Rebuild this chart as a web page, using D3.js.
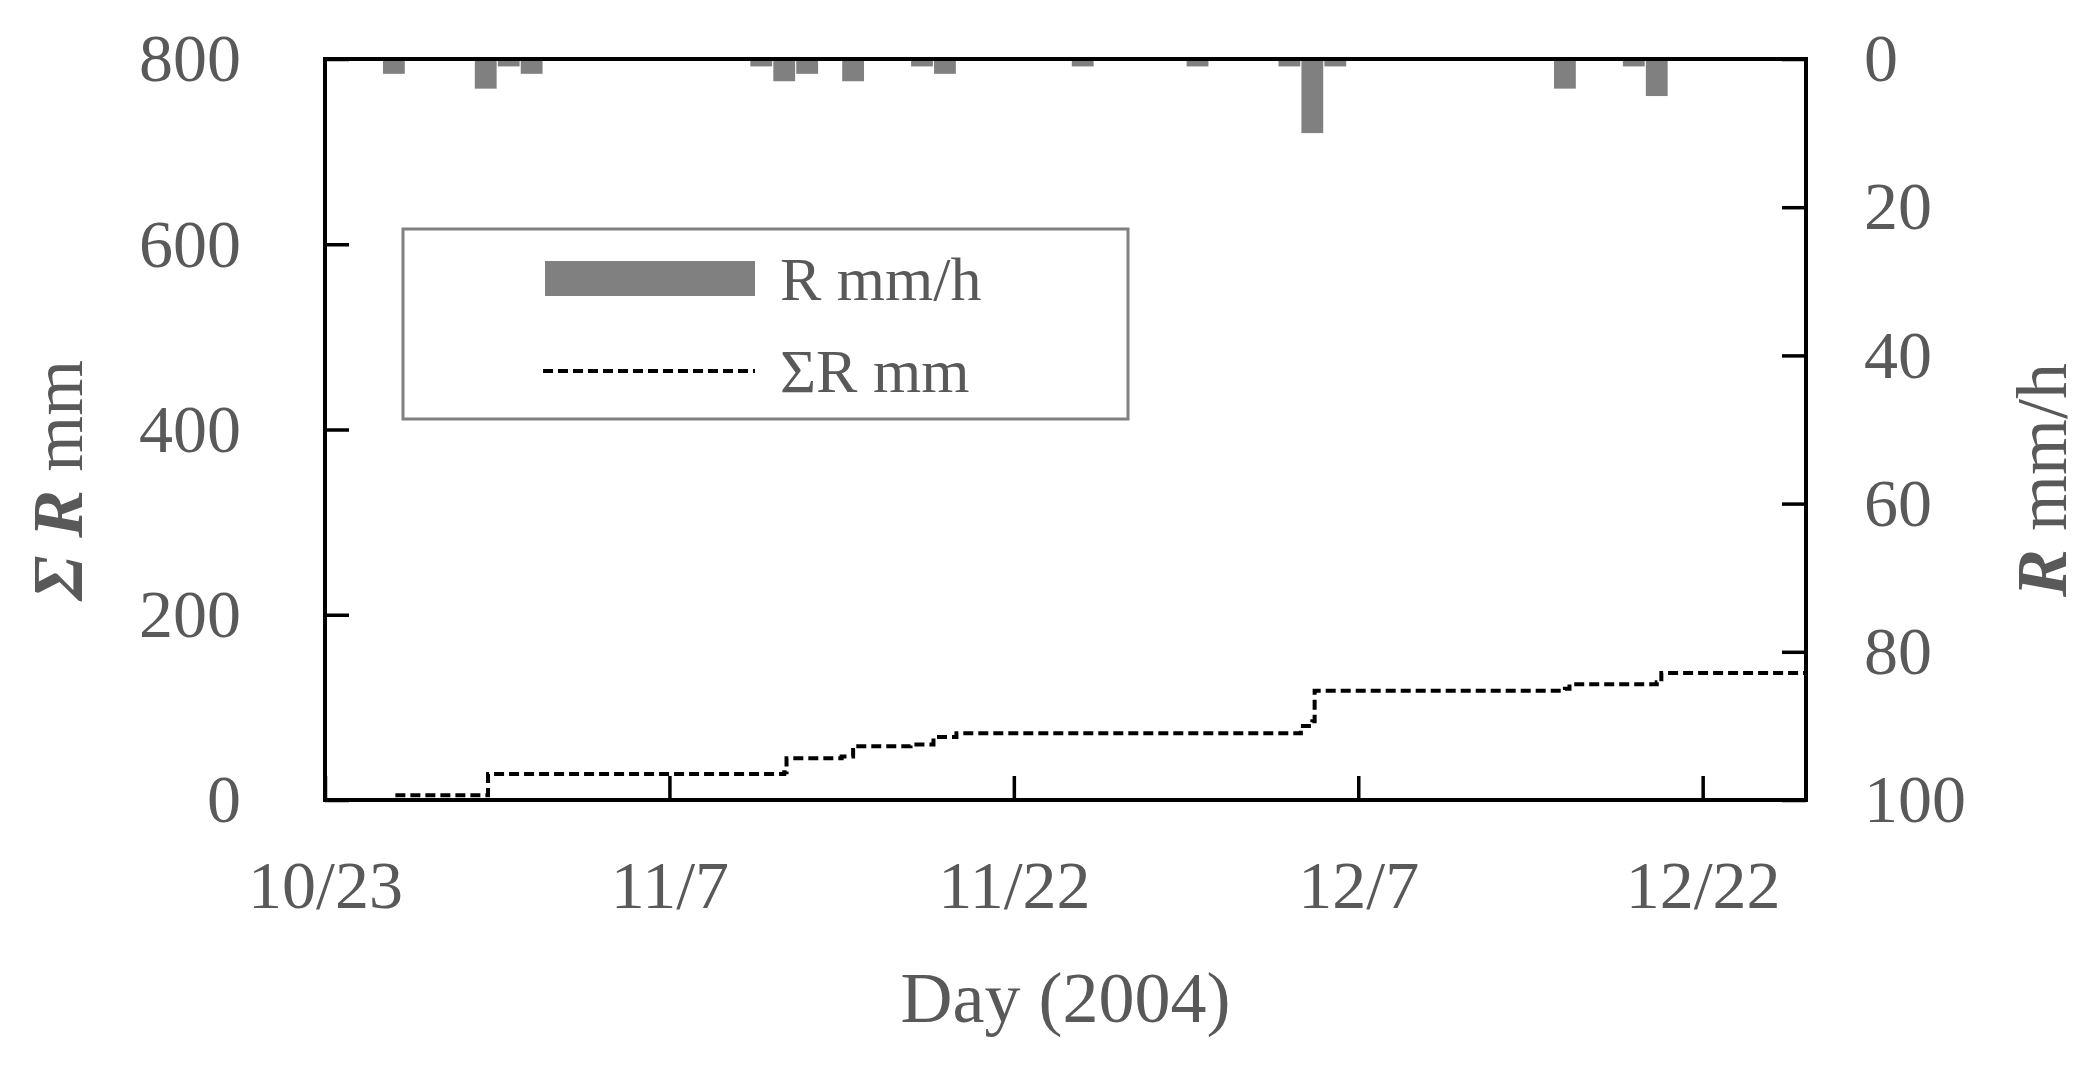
<!DOCTYPE html>
<html><head><meta charset="utf-8">
<script src="https://cdn.jsdelivr.net/npm/d3@7"></script>
<style>body{margin:0;background:#fff}text{font-family:"Liberation Serif",serif;fill:#595959}</style>
</head><body><svg id="chart" width="2091" height="1075"></svg>
<script>
// daily rain intensity (day offset from 10/23, mm/h)
const rainDays = [3, 7, 8, 9, 19, 20, 21, 23, 26, 27, 33, 38, 42, 43, 44, 54, 57, 58];
const rainVals = [2, 4, 1, 2, 1, 3, 2, 3, 1, 2, 1, 1, 1, 10, 1, 4, 1, 5];
// cumulative rainfall steps
const cumDays = [0, 2.7, 3, 7, 7.1, 20, 20.1, 22.5, 23, 25.5, 26.5, 27.5, 42.5, 43, 43.1, 54, 54.2, 58, 58.2, 64.5];
const cumVals = [0, 0, 5, 5, 28, 30, 45, 47, 58, 60, 68, 72, 80, 85, 118, 120, 125, 127, 137, 137];
const tickDays = [0, 15, 30, 45, 60];
const tickLabels = ["10/23", "11/7", "11/22", "12/7", "12/22"];

const m = {left: 325, right: 1806, top: 59, bottom: 800};
const svg = d3.select("#chart");
const x = d3.scaleLinear().domain([0, 64.5]).range([m.left, m.right]);
const yL = d3.scaleLinear().domain([0, 800]).range([m.bottom, m.top]);
const yR = d3.scaleLinear().domain([0, 100]).range([m.top, m.bottom]);

// rain bars hanging from top
const bw = x(0.95) - x(0);
svg.selectAll("rect.bar").data(rainDays).enter().append("rect")
    .attr("x", (d) => x(d) - bw / 2)
    .attr("y", m.top)
    .attr("width", bw)
    .attr("height", (d, i) => yR(rainVals[i]) - m.top)
    .attr("fill", "#808080");

// cumulative line
const line = d3.line().x((d) => x(d[0])).y((d) => yL(d[1])).curve(d3.curveStepAfter);
svg.append("path").datum(cumDays.map((d, i) => [d, cumVals[i]]))
    .attr("d", line).attr("fill", "none").attr("stroke", "#000")
    .attr("stroke-width", 4).attr("stroke-dasharray", "10,5");

// frame
svg.append("rect").attr("x", m.left).attr("y", m.top)
    .attr("width", m.right - m.left).attr("height", m.bottom - m.top)
    .attr("fill", "none").attr("stroke", "#000").attr("stroke-width", 4);

function style(g) {
    g.select(".domain").remove();
    g.selectAll("line").attr("stroke", "#000").attr("stroke-width", 3.5);
    g.selectAll("text").style("font-size", "68px").style("fill", "#595959");
}
svg.append("g").attr("transform", `translate(${m.left},0)`)
    .call(d3.axisLeft(yL).tickValues([0, 200, 400, 600, 800]).tickSize(-24).tickPadding(84))
    .call(style);
svg.append("g").attr("transform", `translate(${m.right},0)`)
    .call(d3.axisRight(yR).tickValues([0, 20, 40, 60, 80, 100]).tickSize(-24).tickPadding(58))
    .call(style);
svg.append("g").attr("transform", `translate(0,${m.bottom})`)
    .call(d3.axisBottom(x).tickValues(tickDays).tickFormat((d, i) => tickLabels[i]).tickSize(-24).tickPadding(60))
    .call(style);

svg.append("text").attr("x", (m.left + m.right) / 2).attr("y", 1022)
    .attr("text-anchor", "middle").style("font-size", "72px").text("Day (2004)");

const yl = svg.append("text").attr("transform", "translate(82,480) rotate(-90)")
    .attr("text-anchor", "middle").style("font-size", "72px");
yl.append("tspan").style("font-weight", "bold").style("font-style", "italic").text("Σ R");
yl.append("tspan").text(" mm");
const yr = svg.append("text").attr("transform", "translate(2066,480) rotate(-90)")
    .attr("text-anchor", "middle").style("font-size", "72px");
yr.append("tspan").style("font-weight", "bold").style("font-style", "italic").text("R");
yr.append("tspan").text(" mm/h");

// legend
svg.append("rect").attr("x", 403).attr("y", 229).attr("width", 725).attr("height", 190)
    .attr("fill", "#fff").attr("stroke", "#808080").attr("stroke-width", 3);
svg.append("rect").attr("x", 545).attr("y", 261).attr("width", 210).attr("height", 35).attr("fill", "#808080");
svg.append("line").attr("x1", 543).attr("x2", 755).attr("y1", 371).attr("y2", 371)
    .attr("stroke", "#000").attr("stroke-width", 4).attr("stroke-dasharray", "10,5");
svg.append("text").attr("x", 780).attr("y", 300).style("font-size", "62px").text("R mm/h");
svg.append("text").attr("x", 780).attr("y", 392).style("font-size", "62px").text("ΣR mm");
</script></body></html>
